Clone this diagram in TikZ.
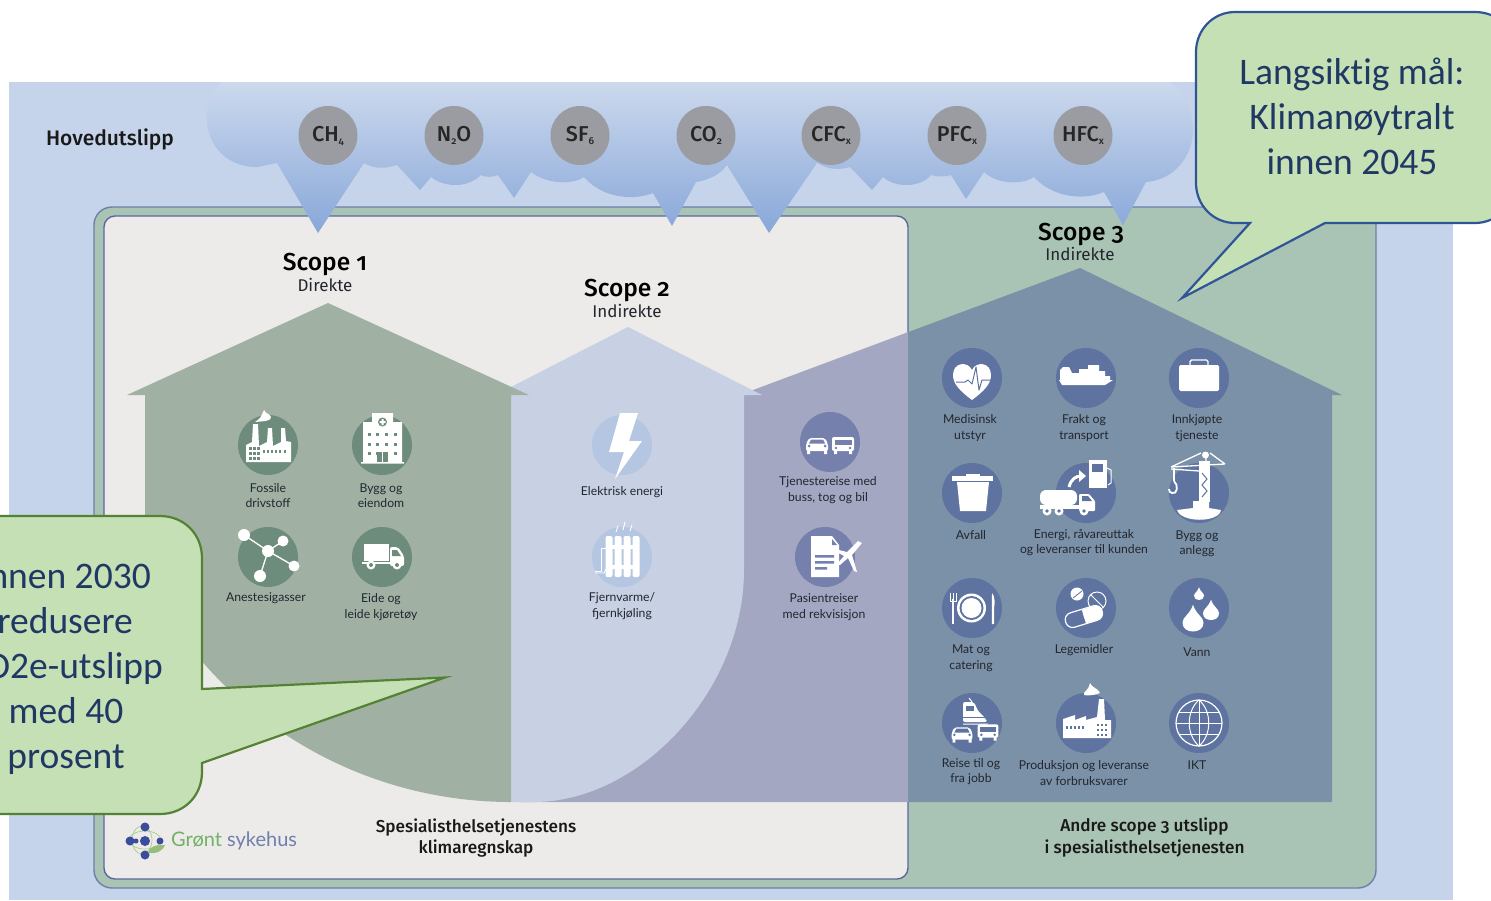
\documentclass[tikz,border=0pt]{standalone}
\usepackage{fontspec}
\setmainfont{Lato}
\newfontfamily\headf[Numbers=OldStyle]{Fira Sans}
\newfontfamily\medf[Numbers=OldStyle]{Fira Sans Medium}
\newfontfamily\callf[Ligatures=NoCommon]{Carlito}
\definecolor{bgblue}{HTML}{C5D4EA}
\definecolor{framegreen}{HTML}{A9C4B4}
\definecolor{frameline}{HTML}{6C80A8}
\definecolor{panel}{HTML}{ECEBE9}
\definecolor{panelline}{HTML}{5A689E}
\definecolor{houseA}{HTML}{A0B1A4}
\definecolor{houseB}{HTML}{C7D1E3}
\definecolor{houseC}{HTML}{A3A7C2}
\definecolor{houseD}{HTML}{7A91A7}
\definecolor{discA}{HTML}{6E8C7C}
\definecolor{discB}{HTML}{B4C6E1}
\definecolor{discC}{HTML}{7580AD}
\definecolor{discD}{HTML}{5E739F}
\definecolor{gasgrey}{HTML}{9A9CA1}
\definecolor{calloutfill}{HTML}{C5E0B4}
\definecolor{calloutblue}{HTML}{2F5597}
\definecolor{calloutgreen}{HTML}{548235}
\definecolor{callouttext}{HTML}{203864}
\definecolor{inktext}{HTML}{23262F}
\definecolor{logogreen}{HTML}{72B066}
\definecolor{logoblue}{HTML}{6F7FAE}
\definecolor{logodot}{HTML}{3B4C9E}
\definecolor{logoring}{HTML}{A8CC8E}
\definecolor{cloudtop}{HTML}{CCD9ED}
\definecolor{cloudmid}{HTML}{B4C7E5}
\definecolor{cloudlow}{HTML}{88A7D9}
\tikzset{
  gas/.style={circle,fill=gasgrey,minimum size=59pt,inner sep=0pt,text=black!85,font=\medf\fontsize{21.5}{22}\selectfont},
  lab/.style={align=center,text=inktext,inner sep=0pt,yshift=-1pt,font=\fontsize{12.2}{15.5}\selectfont},
  scopet/.style={text=black,inner sep=0pt,font=\medf\fontsize{24.5}{26}\selectfont},
  scopes/.style={text=inktext,inner sep=0pt,font=\headf\fontsize{17}{18}\selectfont},
  boldt/.style={align=center,text=black!90,inner sep=0pt,font=\medf\fontsize{17.2}{21.5}\selectfont},
  calltext/.style={text=callouttext,inner sep=0pt,font=\callf\fontsize{37.5}{45}\selectfont},
  disc/.style={circle,minimum size=60pt,inner sep=0pt},
}
\newcommand{\gsub}[1]{\raisebox{-3pt}{\fontsize{10}{10}\selectfont #1}}
\newcommand{\ico}[6]{% name,x,y,colour,glyph
  \node[disc,fill=#4] (#1) at (#2,#3) {};
  \begin{scope}[shift={(#2,#3)}]\colorlet{icol}{#4}#5\end{scope}}
\newcommand{\carg}{%
  \fill[white,rounded corners=2pt] (-11,0) -- (-8,-6) -- (8,-6) -- (11,0) -- (11,7) -- (-11,7) -- cycle;
  \fill[icol] (-6,-4.5) -- (6,-4.5) -- (8,-0.5) -- (-8,-0.5) -- cycle;
  \fill[icol] (-8,2) circle[radius=1.5pt] (8,2) circle[radius=1.5pt];
  \fill[white] (-10,6) rectangle (-7,10) (7,6) rectangle (10,10);}
\newcommand{\busg}{%
  \fill[white,rounded corners=2pt] (-11,-7) rectangle (11,7);
  \fill[icol] (-8.5,-4.5) rectangle (8.5,1);
  \fill[icol] (-7,4) circle[radius=1.4pt] (7,4) circle[radius=1.4pt];
  \fill[white] (-9,6) rectangle (-6,10) (6,6) rectangle (9,10);}
\newcommand{\dropg}[3]{\fill[white] (#1,#2-1.55*#3) .. controls (#1+0.3*#3,#2-0.6*#3) and (#1+#3,#2-0.4*#3) .. (#1+#3,#2+0.15*#3) .. controls (#1+#3,#2+0.75*#3) and (#1+0.5*#3,#2+#3) .. (#1,#2+#3) .. controls (#1-0.5*#3,#2+#3) and (#1-#3,#2+0.75*#3) .. (#1-#3,#2+0.15*#3) .. controls (#1-#3,#2-0.4*#3) and (#1-0.3*#3,#2-0.6*#3) .. (#1,#2-1.55*#3) -- cycle;}
\begin{document}
\begin{tikzpicture}[x=1pt,y=-1pt]
\useasboundingbox (0,0) rectangle (1491,900);
\fill[bgblue] (9,82) rectangle (1453,900);
% frame and panel
\node[draw=frameline,fill=framegreen,line width=1.4pt,rounded corners=18pt,minimum width=1282pt,minimum height=681pt,inner sep=0pt] (frame) at (735,547.5) {};
\node[draw=panelline,fill=panel,line width=1.4pt,rounded corners=11pt,minimum width=804pt,minimum height=663pt,inner sep=0pt] (inner) at (506,547.5) {};
% scope 3 house, two tones
\begin{scope}
\clip (500,200) rectangle (908,820);
\fill[houseC] (745,393) -- (1080,268) -- (1342,395) -- (1332,395) -- (1332,802) -- (520,802) -- (520,395) -- (745,395) -- cycle;
\end{scope}
\begin{scope}
\clip (908,200) rectangle (1400,820);
\fill[houseD] (745,393) -- (1080,268) -- (1342,395) -- (1332,395) -- (1332,802) -- (520,802) -- (520,395) -- (745,395) -- cycle;
\end{scope}
% scope 2 house
\fill[houseB] (628,327) -- (762,395) -- (744,395) -- (744,570) .. controls (744,690) and (640,802) .. (534,802) -- (505,802) -- (505,390) -- cycle;
% scope 1 house
\fill[houseA] (328,303) -- (529,395) -- (511,395) -- (511,802) .. controls (355.7,802) and (214.4,715) .. (145,576) -- (145,395) -- (127,395) -- cycle;
% cloud
\shade[top color=cloudtop,middle color=cloudmid,bottom color=cloudlow]
 (222,82) .. controls (212,92) and (206,105) .. (207,120)
 .. controls (208,150) and (232,168) .. (258,167) -- (277,163)
 -- (318,233) -- (364,163)
 .. controls (375,170) and (388,168) .. (397,165)
 -- (420,190) -- (431,177)
 .. controls (445,188) and (468,188) .. (481,175)
 .. controls (488,178) and (492,177) .. (498,175)
 -- (514,198) -- (531,172)
 .. controls (545,183) and (570,186) .. (584,177)
 .. controls (600,196) and (630,202) .. (653,193)
 -- (672,226) -- (696,182)
 .. controls (708,180) and (720,175) .. (727,165)
 -- (769,233) -- (817,163)
 .. controls (828,170) and (840,170) .. (850,167)
 -- (872,190) -- (883,177)
 .. controls (895,188) and (920,188) .. (931,175)
 .. controls (938,177) and (945,177) .. (951,175)
 -- (966,199) -- (984,172)
 .. controls (995,183) and (1020,186) .. (1034,177)
 .. controls (1050,195) and (1080,202) .. (1104,192)
 -- (1123,225) -- (1146,182)
 .. controls (1175,180) and (1193,155) .. (1193,130)
 .. controls (1193,110) and (1185,92) .. (1170,82) -- cycle;
% gases
\node[gas] (ch4) at (328,135.5) {CH\gsub{4}};
\node[gas] (n2o) at (454,135.5) {N\gsub{2}O};
\node[gas] (sf6) at (580,135.5) {SF\gsub{6}};
\node[gas] (co2) at (706,135.5) {CO\gsub{2}};
\node[gas] (cfc) at (831,135.5) {CFC\gsub{x}};
\node[gas] (pfc) at (957,135.5) {PFC\gsub{x}};
\node[gas] (hfc) at (1083,135.5) {HFC\gsub{x}};
\node[inner sep=0pt,text=black!90,font=\medf\fontsize{21}{24}\selectfont] (hoved) at (110,139) {Hovedutslipp};
% headings
\node[scopet] (s1) at (325,265) {Scope 1};
\node[scopes] (s1b) at (325,285) {Direkte};
\node[scopet] (s2) at (627,291) {Scope 2};
\node[scopes] (s2b) at (627,311) {Indirekte};
\node[scopet] (s3) at (1081,235) {Scope 3};
\node[scopes] (s3b) at (1080,254) {Indirekte};
% scope 1 icons
\ico{fos}{268}{445}{discA}{%
  \fill[white] (-22,17) -- (-22,0) -- (-16,-3) -- (-15,-21) -- (-10,-21) -- (-9,1) -- (-1,-3) -- (0,-17) -- (4,-17) -- (5,1) -- (13,-3) -- (13,-17) -- (17,-17) -- (18,-4) -- (23,-3) -- (23,17) -- cycle;
  \fill[white] (-13,-23) .. controls (-8,-26) and (-7,-28) .. (-4,-35) .. controls (-2,-31) and (2,-31) .. (3,-28) .. controls (3,-24) and (-2,-24) .. (-13,-23) -- cycle;
  \foreach \a in {-18,-14,-10}{\foreach \b in {3,8,13}{\fill[icol] (\a-1,\b-1) rectangle (\a+1.5,\b+1.5);}}
  \foreach \a in {-4,0,4,8,12,17}{\fill[icol] (\a-1,5) rectangle (\a+1,8);}}{}
\ico{byg}{382}{445}{discA}{%
  \fill[white] (-19,17) -- (-19,-23) -- (-10,-23) -- (-10,-32) -- (11,-32) -- (11,-23) -- (20,-23) -- (20,17) -- (22,17) -- (22,18.5) -- (-21,18.5) -- (-21,17) -- cycle;
  \fill[icol] (0.5,-23) circle[radius=4.5pt];
  \fill[white] (-0.5,-26) rectangle (1.5,-20) (-2.5,-24) rectangle (3.5,-22);
  \foreach \a in {-13,-4.5,4.5,13}{\foreach \b in {-11,-1,8}{\fill[icol] (\a-1.5,\b-1.5) rectangle (\a+1.5,\b+1.5);}}
  \fill[icol] (-5,7) rectangle (6,17);\fill[white] (0,7) rectangle (1,17);}{}
\ico{ane}{268}{557}{discA}{%
  \draw[white,line width=1.3pt] (-24,-22) -- (0,-6) -- (15,-16) (0,-6) -- (26,9) (0,-6) -- (-8,19);
  \fill[white] (0,-6) circle[radius=6pt] (-24,-22) circle[radius=6pt] (15,-16) circle[radius=5.5pt] (26,9) circle[radius=5.5pt] (-8,19) circle[radius=6pt];}{}
\ico{eid}{382}{557}{discA}{%
  \fill[white] (-18,-13) rectangle (7,4);
  \fill[white,rounded corners=2pt] (8,-10) -- (16,-10) -- (22,-1) -- (22,9) -- (8,9) -- cycle;
  \fill[icol] (10,-7) -- (15,-7) -- (19,-1) -- (10,-1) -- cycle;
  \fill[white] (-20,5) rectangle (8,7);
  \fill[white] (-11,8) circle[radius=4.5pt] (15,8) circle[radius=4.5pt];
  \fill[icol] (-11,8) circle[radius=2pt] (15,8) circle[radius=2pt];}{}
% scope 2 icons
\ico{ele}{622}{445}{discB}{%
  \fill[white] (-2,-32) -- (16,-32) -- (7,-4) -- (20,-4) -- (-7,34) -- (2,7) -- (-13,7) -- cycle;}{}
\ico{fje}{622}{557}{discB}{%
  \foreach \a in {-13,-4,5,14}{\fill[white,rounded corners=2pt] (\a-3.5,-21) rectangle (\a+3.5,20);}
  \fill[white] (-13,-12) rectangle (14,-8) (-13,8) rectangle (14,12);
  \draw[white,line width=0.9pt] (-16,-9) -- (-21,-9) -- (-21,14) -- (-27,14);
  \draw[white,line width=0.9pt] (-16,12) -- (-18,16) -- (-27,16);
  \draw[white,line width=0.9pt,line cap=round] (-6,-25) -- (-4,-31) (1,-27) -- (3,-35) (8,-26) -- (10,-32);}{}
\ico{tje}{830}{442}{discC}{%
  \begin{scope}[shift={(-13,2)}]\carg\end{scope}
  \begin{scope}[shift={(13,2)}]\busg\end{scope}}{}
\ico{pas}{825}{557}{discC}{%
  \fill[white] (-14,-21) -- (7,-21) -- (14,-12) -- (14,20) -- (-14,20) -- cycle;
  \fill[icol] (7,-18) -- (7,-12) -- (12,-12) -- cycle;
  \fill[icol] (-10,-2) rectangle (9,0.5) (-10,4) rectangle (9,6.5) (-10,10) rectangle (2,12.5);
  \fill[white] (37,-14) -- (33,-16) -- (22,-5) -- (10,-8) -- (10,-6) -- (19,-1) -- (12,7) -- (15,8) -- (23,1) -- (29,14) -- (32,15) -- (27,-2) -- cycle;}{}
% scope 3 icons
\ico{med}{972}{378}{discD}{%
  \fill[white] (0,22) .. controls (-12,13) and (-19,6) .. (-19,-3) .. controls (-19,-16) and (-4,-17) .. (0,-8) .. controls (4,-17) and (19,-16) .. (19,-3) .. controls (19,6) and (12,13) .. (0,22) -- cycle;
  \draw[icol,line width=1pt,line join=round] (-16,4) -- (-7,4) -- (-4,2) -- (0,6) -- (4,-11) -- (7,12) -- (10,2) -- (18,2);}{}
\ico{fra}{1086}{378}{discD}{%
  \fill[white] (-27,2) -- (27,2) -- (19,7) -- (-24,7) -- cycle;
  \fill[white] (-26,2) -- (-26,-8) -- (-23,-11) -- (-17,-11) -- (-14,-5) -- (-7,-5) -- (-7,-9) -- (2,-9) -- (2,-13) -- (13,-13) -- (13,-7) -- (19,-7) -- (19,-2) -- (24,-2) -- (24,2) -- cycle;}{}
\ico{inn}{1199}{378}{discD}{%
  \fill[white,rounded corners=1.5pt] (-20,-13) rectangle (20,13);
  \draw[white,line width=1.4pt,rounded corners=1.5pt] (-9,-13) -- (-9,-18) -- (9,-18) -- (9,-13);}{}
\ico{avf}{972}{493}{discD}{%
  \fill[white] (-20,-17) -- (21,-17) -- (21,-12) -- (-20,-12) -- cycle;
  \fill[white] (-15,-11) -- (17,-11) -- (14,18) -- (-12,18) -- cycle;
  \fill[white] (-6,-19) rectangle (8,-17);}{}
\ico{ene}{1086}{493}{discD}{%
  \fill[white,rounded corners=6pt] (-46,-3) rectangle (-9,12);
  \fill[white] (-46,12) rectangle (9,16);
  \fill[white,rounded corners=1pt] (-7,1) -- (3,1) -- (9,8) -- (9,18) -- (-7,18) -- cycle;
  \fill[icol] (-4,3) -- (2,3) -- (6,8) -- (-4,8) -- cycle;
  \foreach \a in {-39,-27,-2}{\fill[white] (\a,18) circle[radius=4.5pt];\fill[icol] (\a,18) circle[radius=1.8pt];}
  \fill[white] (3,-33) rectangle (21,-5);
  \fill[icol] (6,-29) rectangle (17,-21);
  \draw[white,line width=1pt] (21,-25) -- (25,-23) -- (25,-10) -- (22,-8);
  \draw[white,line width=3pt] (-17,-6) .. controls (-15,-14) and (-10,-17) .. (-5,-17);
  \fill[white] (-7,-23) -- (0,-17) -- (-7,-11) -- cycle;}{}
\ico{ann}{1199}{493}{discD}{%
  \fill[white] (-22,17) .. controls (-18,30) and (20,30) .. (22,17) -- (10,15) -- (10,8) -- (-6,8) -- (-6,15) -- cycle;
  \fill[white] (0,9) -- (0,-32) -- (11,-32) -- (11,9) -- cycle;
  \draw[white,line width=1.3pt] (-28,-26) -- (26,-29) (-28,-24) -- (0,-22) (2,-40) -- (-28,-26) (11,-40) -- (26,-29) (7,-40) -- (7,-32);
  \fill[white] (6.5,-38) circle[radius=3.5pt];
  \draw[icol,line width=1pt] (3,-20) -- (8,-14) -- (3,-8) -- (8,-2) -- (3,4);
  \draw[white,line width=1.2pt] (-25,-25) -- (-25,-12);
  \draw[white,line width=1.8pt] (-25,-12) .. controls (-20,-8) and (-22,2) .. (-27,0) .. controls (-29,0) and (-30,-2) .. (-30,-4);}{}
\ico{mat}{972}{608}{discD}{%
  \fill[white] (-0.5,0) circle[radius=14.5pt];
  \fill[icol] (-0.5,0) circle[radius=12pt];
  \fill[white] (-0.5,0) circle[radius=10pt];
  \draw[white,line width=1.4pt] (-19,-9) -- (-19,16);
  \draw[white,line width=0.7pt] (-22,-15) -- (-22,-7) -- (-16,-7) -- (-16,-15) (-19,-15) -- (-19,-7);
  \fill[white] (20,-15) .. controls (23,-12) and (23,-4) .. (22,0) -- (22,16) -- (19.8,16) -- cycle;}{}
\ico{leg}{1086}{608}{discD}{%
  \fill[white] (-9,-14) circle[radius=6.5pt];
  \draw[icol,line width=0.8pt] (-13,-10) -- (-4,-17);
  \draw[white,line width=1pt] (11,-7) circle[radius=9pt];
  \draw[white,line width=1pt] (5,-13) -- (17,-1);
  \begin{scope}[rotate around={17:(-2,9)}]
  \draw[white,line width=1.2pt,rounded corners=7pt] (-21,1) rectangle (17,16);
  \fill[white,rounded corners=6pt] (-2,1.5) rectangle (17,15.5);
  \fill[white] (-2,1.5) rectangle (8,15.5);
  \end{scope}}{}
\ico{van}{1199}{608}{discD}{%
  \dropg{0}{-13}{5}
  \dropg{-6}{13}{10.5}
  \dropg{12}{4}{8}}{}
\ico{rei}{972}{723}{discD}{%
  \fill[white,rounded corners=2pt] (-9,-21) -- (2,-21) -- (6,-12) -- (14,-4) -- (15,-1) -- (-9,-1) -- cycle;
  \fill[icol] (-6,-17) rectangle (2,-12);
  \fill[icol] (-9,-6) rectangle (14,-5);
  \draw[white,line width=1pt] (-9,1) -- (16,1) (-3,-25) -- (0,-21);
  \begin{scope}[shift={(-10,10)},scale=0.95]\carg\end{scope}
  \begin{scope}[shift={(16,8)},scale=0.95]\busg\end{scope}}{}
\ico{pro}{1086}{723}{discD}{%
  \fill[white] (-23,15) -- (-23,-4) -- (-11,-8) -- (-11,-3) -- (0,-7) -- (0,-3) -- (11,-6) -- (11,-6) -- (13,-24) -- (18,-24) -- (19,-3) -- (25,-3) -- (25,15) -- cycle;
  \fill[white] (-2,-28) .. controls (-3,-32) and (2,-31) .. (4,-40) .. controls (6,-35) and (12,-35) .. (14,-30) .. controls (10,-28) and (2,-27) .. (-2,-28) -- cycle;
  \foreach \a in {-19,-15,-11,-7,-3}{\fill[discD] (\a-1,3) rectangle (\a+1,6);}
  \foreach \a in {12,16,20}{\foreach \b in {2,7,12}{\fill[discD] (\a-1,\b-1) rectangle (\a+1,\b+1);}}}{}
\ico{ikt}{1199}{723}{discD}{%
  \draw[white,line width=1.2pt] (0,0) circle[radius=23pt];
  \draw[white,line width=1pt] (0,-23) .. controls (-13,-12) and (-13,12) .. (0,23) .. controls (13,12) and (13,-12) .. (0,-23);
  \draw[white,line width=1pt] (0,-23) -- (0,23) (-23,0) -- (23,0) (-20,-11) -- (20,-11) (-20,11) -- (20,11);}{}
% icon labels
\node[lab] (l1) at (268,494.5) {Fossile\\drivstoff};
\node[lab] (l2) at (381,494.5) {Bygg og\\eiendom};
\node[lab] (l3) at (266,597) {Anestesigasser};
\node[lab] (l4) at (381,606) {Eide og\\leide kjøretøy};
\node[lab] (l5) at (622,491) {Elektrisk energi};
\node[lab] (l6) at (622,605) {Fjernvarme/\\fjernkjøling};
\node[lab] (l7) at (828,489) {Tjenestereise med\\buss, tog og bil};
\node[lab] (l8) at (824,606) {Pasientreiser\\med rekvisisjon};
\node[lab] (l9) at (970,427) {Medisinsk\\utstyr};
\node[lab] (l10) at (1084,427) {Frakt og\\transport};
\node[lab] (l11) at (1197,427) {Innkjøpte\\tjeneste};
\node[lab] (l12) at (971,534) {Avfall};
\node[lab] (l13) at (1084,541.5) {Energi, råvareuttak\\og leveranser til kunden};
\node[lab] (l14) at (1197,542.5) {Bygg og\\anlegg};
\node[lab] (l15) at (971,657) {Mat og\\catering};
\node[lab] (l16) at (1084,649) {Legemidler};
\node[lab] (l17) at (1197,651) {Vann};
\node[lab] (l18) at (971,770.5) {Reise til og\\fra jobb};
\node[lab] (l19) at (1084,772) {Produksjon og leveranse\\av forbruksvarer};
\node[lab] (l20) at (1197,764) {IKT};
% footer
\node[boldt] (f1) at (476,838) {Spesialisthelsetjenestens\\klimaregnskap};
\node[boldt] (f2) at (1144.5,837.5) {Andre scope 3 utslipp\\i spesialisthelsetjenesten};
% logo
\draw[logoring,line width=0.7pt] (145,840) circle[x radius=16pt,y radius=9pt];
\draw[logoring,line width=0.7pt] (142,840) circle[x radius=10pt,y radius=14pt];
\fill[logodot] (145,827) circle[radius=4.5pt] (145,855) circle[radius=4.5pt] (145,841) circle[radius=5pt] (130,841) circle[radius=4.5pt] (160,841) circle[radius=3.5pt] (136,841) circle[radius=2.5pt];
\fill[logoring!80!calloutgreen] (148,853) .. controls (150,846) and (155,845) .. (165,845) .. controls (162,852) and (156,854) .. (148,853) -- cycle;
\node[inner sep=0pt,anchor=west,font=\fontsize{20}{24}\selectfont] (logo) at (171,841) {\textcolor{logogreen}{Grønt} \textcolor{logoblue}{sykehus}};
% callouts
\draw[calloutgreen,fill=calloutfill,line width=2.2pt,line join=miter]
 (202,689) -- (445,677.5) -- (202,763) -- (202,772) .. controls (202,796) and (184,814) .. (160,814) -- (-60,814) -- (-60,516) -- (160,516) .. controls (184,516) and (202,534) .. (202,558) -- cycle;
\draw[calloutblue,fill=calloutfill,line width=2.2pt,line join=miter]
 (1250,223) -- (1182,298) -- (1325,223) -- (1475,223) .. controls (1497,223) and (1515,205) .. (1515,183) -- (1515,50) .. controls (1515,28) and (1497,12) .. (1475,12) -- (1235,12) .. controls (1213,12) and (1196,30) .. (1196,52) -- (1196,183) .. controls (1196,205) and (1213,223) .. (1235,223) -- cycle;
\node[calltext,anchor=base] (r1) at (1352,84) {Langsiktig mål:};
\node[calltext,anchor=base] (r2) at (1352,129) {Klimanøytralt};
\node[calltext,anchor=base] (r3) at (1352,174) {innen 2045};
\node[calltext,anchor=base east] (c1) at (151,588) {Innen 2030};
\node[calltext,anchor=base east] (c2) at (133,633) {redusere};
\node[calltext,anchor=base east] (c3) at (163,678) {CO2e-utslipp};
\node[calltext,anchor=base] (c4) at (66,723) {med 40};
\node[calltext,anchor=base] (c5) at (66,768) {prosent};
\end{tikzpicture}
\end{document}
